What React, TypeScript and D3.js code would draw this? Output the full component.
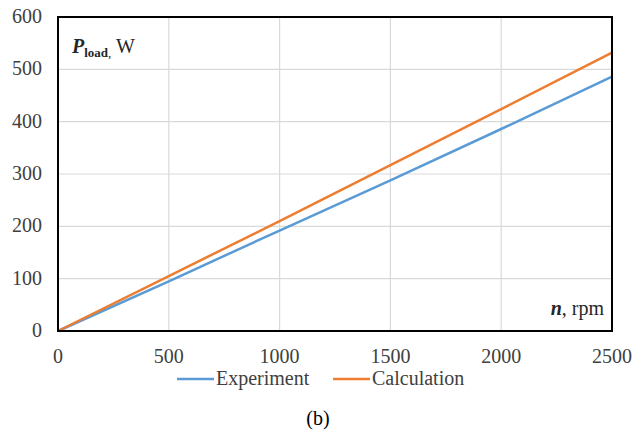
import React, { useEffect, useRef } from "react";
import * as d3 from "d3";

// values
const speed = [0, 500, 1000, 1500, 2000, 2500];
const experiment = [0, 95, 192, 288, 386, 486];
const calculation = [0, 105, 210, 317, 424, 532];
const xTicks = [0, 500, 1000, 1500, 2000, 2500];
const yTicks = [0, 100, 200, 300, 400, 500, 600];
const seriesNames = ["Experiment", "Calculation"];
const seriesColors = ["#5B9BD5", "#ED7D31"];

export default function App() {
  const ref = useRef<SVGSVGElement>(null);

  useEffect(() => {
    const svg = d3.select(ref.current);
    svg.selectAll("*").remove();

    const margin = { left: 58, right: 22, top: 17, bottom: 100 };
    const width = 634 - margin.left - margin.right;
    const height = 431 - margin.top - margin.bottom;

    const x = d3.scaleLinear().domain([0, 2500]).range([0, width]);
    const y = d3.scaleLinear().domain([0, 600]).range([height, 0]);

    const g = svg
      .append("g")
      .attr("transform", `translate(${margin.left},${margin.top})`);

    // grid
    g.selectAll(".gx")
      .data(xTicks)
      .enter()
      .append("line")
      .attr("x1", d => x(d))
      .attr("x2", d => x(d))
      .attr("y1", 0)
      .attr("y2", height)
      .attr("stroke", "#d9d9d9")
      .attr("stroke-width", 1.2);
    g.selectAll(".gy")
      .data(yTicks)
      .enter()
      .append("line")
      .attr("x1", 0)
      .attr("x2", width)
      .attr("y1", d => y(d))
      .attr("y2", d => y(d))
      .attr("stroke", "#d9d9d9")
      .attr("stroke-width", 1.2);

    // tick labels
    g.selectAll(".tx")
      .data(xTicks)
      .enter()
      .append("text")
      .attr("x", d => x(d))
      .attr("y", height + 32)
      .attr("text-anchor", "middle")
      .attr("font-size", 20)
      .attr("fill", "#404040")
      .text(d => d);
    g.selectAll(".ty")
      .data(yTicks)
      .enter()
      .append("text")
      .attr("x", -16)
      .attr("y", d => y(d) + 6)
      .attr("text-anchor", "end")
      .attr("font-size", 20)
      .attr("fill", "#404040")
      .text(d => d);

    // lines
    const series = [experiment, calculation];
    series.forEach((vals, i) => {
      const line = d3
        .line<number>()
        .x((_, j) => x(speed[j]))
        .y(d => y(d));
      g.append("path")
        .datum(vals)
        .attr("fill", "none")
        .attr("stroke", seriesColors[i])
        .attr("stroke-width", 2.5)
        .attr("d", line);
    });

    // frame
    g.append("rect")
      .attr("width", width)
      .attr("height", height)
      .attr("fill", "none")
      .attr("stroke", "#000")
      .attr("stroke-width", 2);

    // axis annotations
    const pl = g
      .append("text")
      .attr("x", 14)
      .attr("y", 36)
      .attr("font-size", 20)
      .attr("fill", "#262626");
    pl.append("tspan").attr("font-weight", "bold").attr("font-style", "italic").text("P");
    pl.append("tspan")
      .attr("font-weight", "bold")
      .attr("font-size", 13)
      .attr("dy", 4)
      .text("load");
    pl.append("tspan").attr("font-size", 13).text(",");
    pl.append("tspan").attr("dy", -4).text(" W");

    const nl = g
      .append("text")
      .attr("x", width - 8)
      .attr("y", height - 16)
      .attr("text-anchor", "end")
      .attr("font-size", 20)
      .attr("fill", "#262626");
    nl.append("tspan").attr("font-weight", "bold").attr("font-style", "italic").text("n");
    nl.append("tspan").text(", rpm");

    // legend
    const legendX = [177, 333];
    seriesNames.forEach((name, i) => {
      const lg = svg.append("g").attr("transform", `translate(${legendX[i]},379)`);
      lg.append("line")
        .attr("x1", 0)
        .attr("x2", 37)
        .attr("y1", 0)
        .attr("y2", 0)
        .attr("stroke", seriesColors[i])
        .attr("stroke-width", 2.5);
      lg.append("text")
        .attr("x", 39)
        .attr("y", 6)
        .attr("font-size", 20)
        .attr("fill", "#404040")
        .text(name);
    });

    svg
      .append("text")
      .attr("x", 318)
      .attr("y", 425)
      .attr("text-anchor", "middle")
      .attr("font-size", 20)
      .attr("fill", "#000")
      .text("(b)");
  });

  return (
    <svg
      ref={ref}
      width={634}
      height={431}
      fontFamily="'Liberation Serif', serif"
      style={{ position: "absolute", left: 0, top: 0, background: "#fff" }}
    />
  );
}
